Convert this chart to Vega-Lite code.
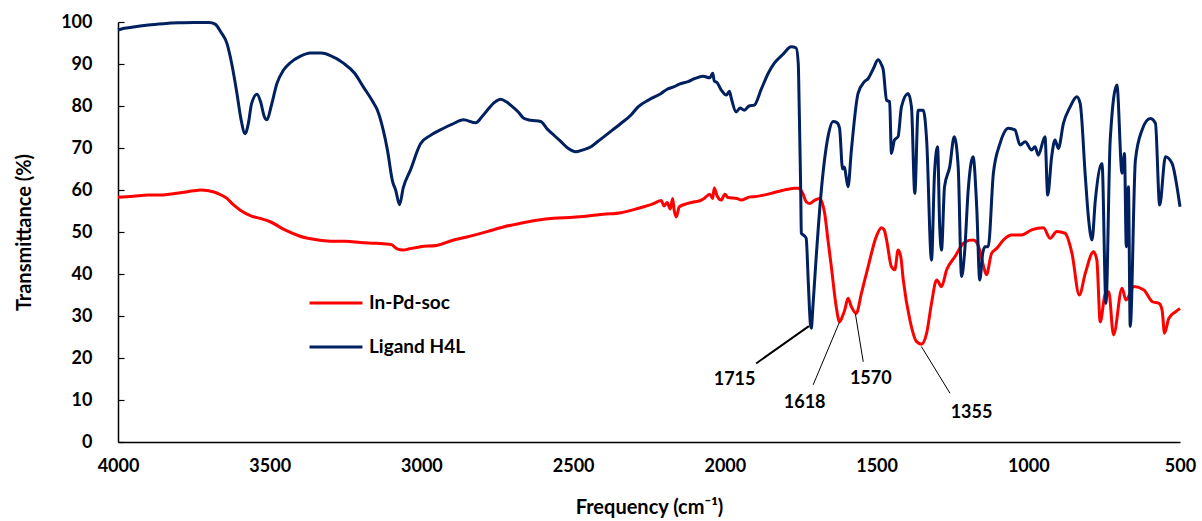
{
  "$schema": "https://vega.github.io/schema/vega-lite/v6.json",
  "width": 1062,
  "height": 420,
  "autosize": "none",
  "padding": {"left": 118, "top": 22, "right": 22, "bottom": 79},
  "background": "white",
  "config": {
    "view": {"stroke": null},
    "font": "Lato",
    "axis": {"grid": false, "domainColor": "#000000", "domainWidth": 1.5, "labelColor": "#000000", "titleColor": "#000000", "labelFont": "Lato", "titleFont": "Lato", "labelFontWeight": "bold", "titleFontWeight": "bold"}
  },
  "datasets": {
    "ligand": [
      {"wn":4000,"t":98.1},{"wn":3980,"t":98.5},{"wn":3950,"t":98.8},{"wn":3900,"t":99.3},{"wn":3850,"t":99.6},{"wn":3800,"t":99.8},{"wn":3750,"t":99.9},{"wn":3700,"t":99.9},{"wn":3680,"t":99.5},{"wn":3660,"t":97.5},{"wn":3641,"t":94.9},{"wn":3625,"t":90},{"wn":3608,"t":83},{"wn":3595,"t":77},{"wn":3581,"t":73.4},{"wn":3570,"t":76},{"wn":3560,"t":80.5},{"wn":3542,"t":82.8},{"wn":3530,"t":81},{"wn":3518,"t":77.5},{"wn":3509,"t":76.7},{"wn":3495,"t":80},{"wn":3476,"t":85.4},{"wn":3455,"t":88.5},{"wn":3432,"t":90.3},{"wn":3400,"t":91.8},{"wn":3366,"t":92.6},{"wn":3330,"t":92.6},{"wn":3300,"t":92},{"wn":3257,"t":90.2},{"wn":3220,"t":87.8},{"wn":3191,"t":84.5},{"wn":3160,"t":81},{"wn":3145,"t":79},{"wn":3125,"t":74},{"wn":3112,"t":69.5},{"wn":3095,"t":62},{"wn":3085,"t":60},{"wn":3072,"t":56.5},{"wn":3060,"t":60.5},{"wn":3036,"t":64.8},{"wn":3003,"t":71},{"wn":2970,"t":73},{"wn":2927,"t":74.7},{"wn":2900,"t":75.6},{"wn":2861,"t":76.7},{"wn":2821,"t":76},{"wn":2800,"t":77.5},{"wn":2783,"t":79},{"wn":2760,"t":80.8},{"wn":2739,"t":81.6},{"wn":2720,"t":81},{"wn":2706,"t":80.2},{"wn":2680,"t":78.5},{"wn":2663,"t":77.1},{"wn":2640,"t":76.6},{"wn":2607,"t":76.3},{"wn":2585,"t":74.5},{"wn":2564,"t":73.1},{"wn":2540,"t":71.5},{"wn":2518,"t":70},{"wn":2491,"t":69.1},{"wn":2470,"t":69.5},{"wn":2441,"t":70.3},{"wn":2420,"t":71.5},{"wn":2398,"t":72.7},{"wn":2370,"t":74.3},{"wn":2342,"t":75.9},{"wn":2310,"t":77.8},{"wn":2286,"t":79.8},{"wn":2250,"t":81.5},{"wn":2210,"t":83},{"wn":2190,"t":84},{"wn":2167,"t":84.6},{"wn":2150,"t":85.2},{"wn":2121,"t":85.8},{"wn":2100,"t":86.5},{"wn":2072,"t":87.1},{"wn":2050,"t":86.7},{"wn":2040,"t":87.8},{"wn":2035,"t":86},{"wn":2025,"t":85.5},{"wn":2012,"t":83.8},{"wn":1995,"t":82.6},{"wn":1985,"t":83.5},{"wn":1979,"t":81.9},{"wn":1963,"t":78.6},{"wn":1950,"t":79.5},{"wn":1936,"t":79},{"wn":1920,"t":80},{"wn":1903,"t":80.2},{"wn":1880,"t":84},{"wn":1857,"t":87.8},{"wn":1837,"t":90.2},{"wn":1810,"t":92.2},{"wn":1781,"t":94.1},{"wn":1765,"t":93.8},{"wn":1758,"t":90},{"wn":1755,"t":79.8},{"wn":1750,"t":60},{"wn":1748,"t":49.7},{"wn":1740,"t":49.2},{"wn":1732,"t":48.5},{"wn":1725,"t":38},{"wn":1718,"t":28},{"wn":1715,"t":27.1},{"wn":1710,"t":32},{"wn":1699,"t":44},{"wn":1682,"t":60},{"wn":1660,"t":72.7},{"wn":1643,"t":76.3},{"wn":1630,"t":76},{"wn":1622,"t":74.7},{"wn":1612,"t":65},{"wn":1606,"t":65.5},{"wn":1600,"t":63},{"wn":1594,"t":60.8},{"wn":1583,"t":69.5},{"wn":1561,"t":83},{"wn":1540,"t":85.8},{"wn":1528,"t":86.5},{"wn":1510,"t":89},{"wn":1495,"t":91},{"wn":1485,"t":90},{"wn":1478,"t":88.6},{"wn":1467,"t":81.4},{"wn":1457,"t":81},{"wn":1451,"t":68.7},{"wn":1441,"t":71.9},{"wn":1429,"t":72.7},{"wn":1418,"t":79.8},{"wn":1396,"t":83},{"wn":1385,"t":79.8},{"wn":1374,"t":59.2},{"wn":1363,"t":79},{"wn":1346,"t":79},{"wn":1335,"t":71.9},{"wn":1319,"t":43.3},{"wn":1309,"t":64},{"wn":1299,"t":70.3},{"wn":1292,"t":51.3},{"wn":1286,"t":45.7},{"wn":1276,"t":60.8},{"wn":1259,"t":65.5},{"wn":1244,"t":72.7},{"wn":1231,"t":65.5},{"wn":1220,"t":39.4},{"wn":1210,"t":45},{"wn":1198,"t":60},{"wn":1182,"t":67.9},{"wn":1170,"t":56},{"wn":1160,"t":38.6},{"wn":1150,"t":45},{"wn":1143,"t":46.5},{"wn":1132,"t":46.5},{"wn":1115,"t":64},{"wn":1093,"t":71.1},{"wn":1066,"t":74.7},{"wn":1044,"t":74.3},{"wn":1027,"t":70.7},{"wn":1010,"t":71.5},{"wn":989,"t":69.5},{"wn":978,"t":70.3},{"wn":967,"t":68.3},{"wn":945,"t":72.7},{"wn":936,"t":58.8},{"wn":923,"t":67.9},{"wn":912,"t":71.9},{"wn":901,"t":69.9},{"wn":884,"t":75.9},{"wn":862,"t":79.8},{"wn":840,"t":82.2},{"wn":829,"t":80.6},{"wn":812,"t":63.2},{"wn":801,"t":52.9},{"wn":790,"t":48.1},{"wn":779,"t":57.6},{"wn":757,"t":66.3},{"wn":744,"t":33},{"wn":730,"t":71.9},{"wn":708,"t":85},{"wn":691,"t":64},{"wn":683,"t":68.7},{"wn":677,"t":46.5},{"wn":670,"t":60.8},{"wn":664,"t":27.5},{"wn":647,"t":67.1},{"wn":625,"t":74.3},{"wn":598,"t":77},{"wn":581,"t":75.9},{"wn":567,"t":56.4},{"wn":548,"t":67.9},{"wn":526,"t":66.3},{"wn":510,"t":60.8},{"wn":500,"t":56}
    ],
    "complex": [
      {"wn":4000,"t":58.3},{"wn":3950,"t":58.5},{"wn":3900,"t":58.8},{"wn":3861,"t":58.8},{"wn":3800,"t":59.3},{"wn":3750,"t":59.8},{"wn":3729,"t":60},{"wn":3700,"t":59.8},{"wn":3686,"t":59.6},{"wn":3660,"t":58.8},{"wn":3641,"t":58},{"wn":3620,"t":56.5},{"wn":3597,"t":55.2},{"wn":3560,"t":53.8},{"wn":3530,"t":53.2},{"wn":3500,"t":52.5},{"wn":3450,"t":50.5},{"wn":3400,"t":49},{"wn":3350,"t":48.2},{"wn":3300,"t":47.8},{"wn":3250,"t":47.8},{"wn":3200,"t":47.5},{"wn":3150,"t":47.3},{"wn":3100,"t":47},{"wn":3080,"t":46},{"wn":3060,"t":45.7},{"wn":3040,"t":46},{"wn":3003,"t":46.5},{"wn":2950,"t":46.8},{"wn":2894,"t":48.1},{"wn":2850,"t":48.8},{"wn":2783,"t":50.1},{"wn":2730,"t":51.2},{"wn":2673,"t":52.1},{"wn":2620,"t":52.8},{"wn":2564,"t":53.3},{"wn":2500,"t":53.5},{"wn":2452,"t":53.8},{"wn":2400,"t":54.2},{"wn":2342,"t":54.6},{"wn":2287,"t":55.6},{"wn":2233,"t":56.8},{"wn":2210,"t":57.5},{"wn":2200,"t":56.2},{"wn":2190,"t":57},{"wn":2180,"t":55.5},{"wn":2172,"t":58},{"wn":2167,"t":55.2},{"wn":2160,"t":53.6},{"wn":2150,"t":56},{"wn":2122,"t":56.8},{"wn":2100,"t":57.2},{"wn":2080,"t":57.5},{"wn":2068,"t":58},{"wn":2050,"t":59},{"wn":2040,"t":58},{"wn":2035,"t":60.5},{"wn":2025,"t":58.5},{"wn":2012,"t":57.6},{"wn":2000,"t":59},{"wn":1990,"t":58.2},{"wn":1960,"t":58},{"wn":1946,"t":57.6},{"wn":1920,"t":58.3},{"wn":1903,"t":58.4},{"wn":1847,"t":59.2},{"wn":1792,"t":60.2},{"wn":1770,"t":60.4},{"wn":1759,"t":60.4},{"wn":1743,"t":59.2},{"wn":1732,"t":57.2},{"wn":1721,"t":56.8},{"wn":1705,"t":57.5},{"wn":1688,"t":58},{"wn":1671,"t":54.4},{"wn":1660,"t":48},{"wn":1649,"t":41.7},{"wn":1633,"t":32.2},{"wn":1622,"t":28.6},{"wn":1612,"t":30},{"wn":1605,"t":31.4},{"wn":1594,"t":34.2},{"wn":1583,"t":32.2},{"wn":1567,"t":30.6},{"wn":1550,"t":35.4},{"wn":1528,"t":41.7},{"wn":1501,"t":48.9},{"wn":1484,"t":51},{"wn":1475,"t":50.5},{"wn":1467,"t":48.1},{"wn":1451,"t":41.7},{"wn":1440,"t":41},{"wn":1429,"t":45.7},{"wn":1420,"t":44},{"wn":1412,"t":38.6},{"wn":1390,"t":29},{"wn":1368,"t":23.9},{"wn":1352,"t":23.3},{"wn":1335,"t":25.9},{"wn":1319,"t":33},{"wn":1302,"t":38.6},{"wn":1286,"t":37},{"wn":1269,"t":41},{"wn":1242,"t":44.1},{"wn":1214,"t":47.3},{"wn":1195,"t":48},{"wn":1181,"t":48.1},{"wn":1170,"t":47.5},{"wn":1160,"t":45.7},{"wn":1148,"t":42},{"wn":1138,"t":39.8},{"wn":1121,"t":44.9},{"wn":1104,"t":46.1},{"wn":1082,"t":48.1},{"wn":1055,"t":49.3},{"wn":1022,"t":49.3},{"wn":989,"t":50.5},{"wn":950,"t":51},{"wn":928,"t":48.5},{"wn":906,"t":50.1},{"wn":879,"t":49.7},{"wn":856,"t":44.9},{"wn":832,"t":35},{"wn":812,"t":40.2},{"wn":785,"t":45.3},{"wn":774,"t":43.3},{"wn":763,"t":28.6},{"wn":746,"t":35.4},{"wn":735,"t":35.8},{"wn":719,"t":25.5},{"wn":691,"t":36.6},{"wn":678,"t":33.8},{"wn":652,"t":37},{"wn":619,"t":36.2},{"wn":591,"t":33.4},{"wn":569,"t":33},{"wn":559,"t":31.4},{"wn":551,"t":25.9},{"wn":537,"t":29.4},{"wn":515,"t":31},{"wn":500,"t":31.8}
    ],
    "notes": [
      {"label":"1715","x1":1897,"y1":18.7,"x2":1723,"y2":27.6,"tx":1968,"ty":14.8},
      {"label":"1618","x1":1709,"y1":13.6,"x2":1622,"y2":28.6,"tx":1737,"ty":9.2},
      {"label":"1570","x1":1544,"y1":19.1,"x2":1570,"y2":30.6,"tx":1519,"ty":14.9},
      {"label":"1355","x1":1258,"y1":11.6,"x2":1352,"y2":22.7,"tx":1187,"ty":6.8}
    ]
  },
  "layer": [
    {
      "data": {"name": "complex"},
      "transform": [{"calculate": "'In-Pd-soc'", "as": "series"}],
      "mark": {"type": "line", "strokeWidth": 3, "interpolate": "monotone"},
      "encoding": {
        "x": {"field": "wn", "type": "quantitative", "scale": {"domain": [500, 4000], "reverse": true, "nice": false}, "axis": {"values": [4000,3500,3000,2500,2000,1500,1000,500], "format": "d", "labelFlush": false, "labelOverlap": false, "ticks": false, "labelFontSize": 18, "labelPadding": 15, "title": "Frequency (cm⁻¹)", "titleFontSize": 20, "titlePadding": 22}},
        "y": {"field": "t", "type": "quantitative", "scale": {"domain": [0, 100], "nice": false}, "axis": {"values": [0,10,20,30,40,50,60,70,80,90,100], "tickSize": -6, "tickColor": "#000000", "tickWidth": 1.2, "labelFontSize": 18, "labelPadding": 32, "title": "Transmittance (%)", "titleFontSize": 20, "titlePadding": 26}},
        "color": {"field": "series", "type": "nominal", "scale": {"domain": ["In-Pd-soc", "Ligand H4L"], "range": ["#ff0000", "#002060"]}, "legend": {"title": null, "orient": "none", "legendX": 190, "legendY": 253, "symbolType": "stroke", "symbolSize": 2800, "symbolStrokeWidth": 3, "labelFontSize": 19, "labelFont": "Lato", "labelFontWeight": "bold", "labelColor": "#000000", "rowPadding": 6, "labelOffset": 5}},
        "order": {"field": "wn", "sort": "descending"}
      }
    },
    {
      "data": {"name": "ligand"},
      "transform": [{"calculate": "'Ligand H4L'", "as": "series"}],
      "mark": {"type": "line", "strokeWidth": 3, "interpolate": "monotone"},
      "encoding": {
        "x": {"field": "wn", "type": "quantitative"},
        "y": {"field": "t", "type": "quantitative"},
        "color": {"field": "series", "type": "nominal"},
        "order": {"field": "wn", "sort": "descending"}
      }
    },
    {
      "data": {"name": "notes"},
      "mark": {"type": "rule", "color": "#000000"},
      "encoding": {
        "x": {"field": "x1", "type": "quantitative"},
        "y": {"field": "y1", "type": "quantitative"},
        "x2": {"field": "x2"},
        "y2": {"field": "y2"},
        "strokeWidth": {"condition": {"test": "datum.label === '1715'", "value": 2}, "value": 1}
      }
    },
    {
      "data": {"name": "notes"},
      "mark": {"type": "text", "font": "Lato", "fontWeight": "bold", "fontSize": 18, "color": "#000000", "align": "center", "baseline": "middle"},
      "encoding": {
        "x": {"field": "tx", "type": "quantitative"},
        "y": {"field": "ty", "type": "quantitative"},
        "text": {"field": "label"}
      }
    }
  ]
}
